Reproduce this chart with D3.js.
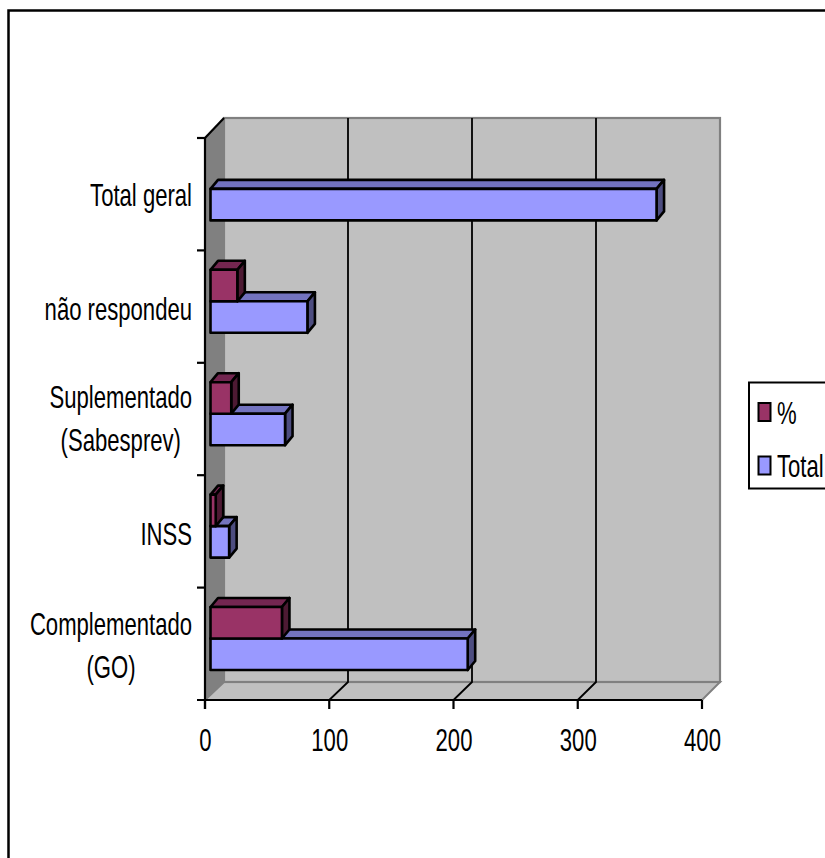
<!DOCTYPE html>
<html><head><meta charset="utf-8">
<style>html,body{margin:0;padding:0;background:#fff;overflow:hidden}svg{display:block}
text{font-family:"Liberation Sans",Arial,sans-serif;font-size:31px;fill:#000}</style>
<script src="https://cdnjs.cloudflare.com/ajax/libs/d3/7.8.5/d3.min.js"></script>
</head><body><svg id="c" width="825" height="858"></svg>
<script>
const categories = ["Complementado (GO)", "INSS", "Suplementado (Sabesprev)", "não respondeu", "Total geral"];
const labelLines = [["Complementado","(GO)"],["INSS"],["Suplementado","(Sabesprev)"],["não respondeu"],["Total geral"]];
const totalValues = [207, 15, 60, 78, 359];
const percentValues = [57.5, 4.2, 16.7, 21.6, null];
const xTicks = [0, 100, 200, 300, 400];
const legendItems = ["%", "Total"];

const svg = d3.select("#c");
const x = d3.scaleLinear().domain([0,400]).range([205,702]);
const xBack = d3.scaleLinear().domain([0,400]).range([224,720]);
const y = d3.scaleBand().domain(categories.slice().reverse()).range([138,700]);
const wallTop = 118, wallBottom = 682, floorY = 700;
const barStart = 5.5, depthX = 7.5, depthY = 9, barH = 31.5, barBase = 30;
const labelNudge = [0, 1, -2.5, 1, -0.5];
const pal = {
  pct:{front:"#993366",top:"#732650",side:"#4d1a33"},
  tot:{front:"#9999ff",top:"#7373bf",side:"#4d4d80"}
};
const pts = a => a.map(p=>p.join(",")).join(" ");

// frame
svg.append("path").attr("d","M8.5,858V10.5H825").attr("fill","none").attr("stroke","#000").attr("stroke-width",2.5);

// walls
svg.append("polygon").attr("points",pts([[x(0),138],[xBack(0),wallTop],[xBack(0),wallBottom],[x(0),floorY]])).attr("fill","#808080").attr("stroke","#808080");
svg.append("polygon").attr("points",pts([[x(0),floorY],[xBack(0),wallBottom],[xBack(400),wallBottom],[x(400),floorY]])).attr("fill","#c0c0c0").attr("stroke","#808080").attr("stroke-width",2);
svg.append("rect").attr("x",xBack(0)).attr("y",wallTop).attr("width",xBack(400)-xBack(0)).attr("height",wallBottom-wallTop).attr("fill","#c0c0c0").attr("stroke","#808080").attr("stroke-width",2.2);

// gridlines
xTicks.slice(1,-1).forEach(t=>{
  svg.append("path").attr("d",`M${xBack(t)},${wallTop}V${wallBottom}L${x(t)},${floorY}`).attr("fill","none").attr("stroke","#000").attr("stroke-width",1.8);
});

// axes
const ax = svg.append("g").attr("stroke","#000").attr("stroke-width",2.2);
ax.append("line").attr("x1",x(0)).attr("x2",x(0)).attr("y1",138).attr("y2",709);
ax.append("line").attr("x1",197).attr("x2",x(400)).attr("y1",floorY).attr("y2",floorY);
ax.append("line").attr("x1",x(0)).attr("x2",xBack(0)).attr("y1",138).attr("y2",wallTop);
xTicks.forEach(t=>ax.append("line").attr("x1",x(t)).attr("x2",x(t)).attr("y1",floorY).attr("y2",709));
categories.forEach(c=>ax.append("line").attr("x1",197).attr("x2",x(0)).attr("y1",y(c)).attr("y2",y(c)));

// bars
function bar(cat,v,p,offset){
  const b = y(cat)+y.bandwidth();
  const y1 = b-offset, y0 = y1-barH, x0 = x(0)+barStart, x1 = x(v)+barStart;
  const g = svg.append("g").attr("stroke","#000").attr("stroke-width",2.6).attr("stroke-linejoin","round");
  g.append("polygon").attr("points",pts([[x0,y0],[x0+depthX,y0-depthY],[x1+depthX,y0-depthY],[x1,y0]])).attr("fill",p.top);
  g.append("polygon").attr("points",pts([[x1,y0],[x1+depthX,y0-depthY],[x1+depthX,y1-depthY],[x1,y1]])).attr("fill",p.side);
  g.append("rect").attr("x",x0).attr("y",y0).attr("width",x1-x0).attr("height",barH).attr("fill",p.front);
}
categories.forEach((c,i)=>{
  bar(c,totalValues[i],pal.tot,barBase);
  if(percentValues[i]!=null) bar(c,percentValues[i],pal.pct,barBase+barH);
});

// compressed label helper (the reference uses a narrow, tall Arial); py is the baseline
const sx = 0.713;
function label(px,py,str,anchor){
  return svg.append("text").attr("transform",`translate(${px},${py}) scale(${sx},1)`)
    .attr("text-anchor",anchor).text(str);
}
// category labels: lines centred on each other, block right edge at 192
labelLines.forEach((lines,i)=>{
  const c = y(categories[i])+y.bandwidth()/2;
  const probe = lines.map(s=>{const t=label(0,-100,s,"middle");const w=t.node().getComputedTextLength()*sx;t.remove();return w;});
  const cx = 192-d3.max(probe)/2;
  lines.forEach((s,j)=>label(cx,c+12.5+labelNudge[i]+(j-(lines.length-1)/2)*43,s,"middle"));
});
xTicks.forEach(t=>label(x(t)+0.5,751,t,"middle"));

// legend
svg.append("rect").attr("x",749).attr("y",382.5).attr("width",100).attr("height",106).attr("fill","#fff").attr("stroke","#000").attr("stroke-width",2);
legendItems.forEach((s,i)=>{
  const cy = 412+i*53.5;
  svg.append("rect").attr("x",758.5).attr("y",cy-9).attr("width",12).attr("height",18)
    .attr("fill",i===0?pal.pct.front:pal.tot.front).attr("stroke","#000").attr("stroke-width",2);
  label(777,cy+11.5,s,"start");
});
</script></body></html>
